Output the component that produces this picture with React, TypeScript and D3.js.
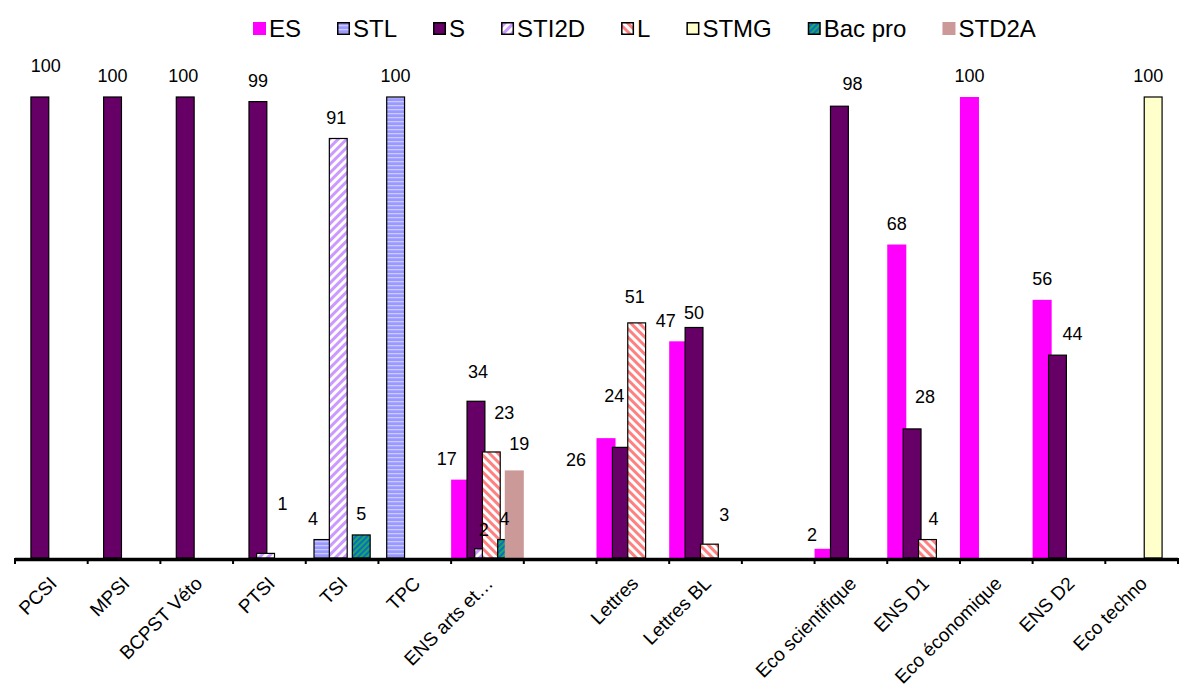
import React, { useEffect, useRef } from "react";
import * as d3 from "d3";

const categories = [
  "PCSI", "MPSI", "BCPST Véto", "PTSI", "TSI", "TPC", "ENS arts et…", "",
  "Lettres", "Lettres BL", "", "Eco scientifique", "ENS D1", "Eco économique", "ENS D2", "Eco techno",
];
const seriesNames = ["ES", "STL", "S", "STI2D", "L", "STMG", "Bac pro", "STD2A"];
const N = null;
const esValues = [N, N, N, N, N, N, 17, N, 26, 47, N, 2, 68, 100, 56, N];
const stlValues = [N, N, N, N, 4, 100, N, N, N, N, N, N, N, N, N, N];
const sValues = [100, 100, 100, 99, N, N, 34, N, 24, 50, N, 98, 28, N, 44, N];
const sti2dValues = [N, N, N, 1, 91, N, 2, N, N, N, N, N, N, N, N, N];
const lValues = [N, N, N, N, N, N, 23, N, 51, 3, N, N, 4, N, N, N];
const stmgValues = [N, N, N, N, N, N, N, N, N, N, N, N, N, N, N, 100];
const bacProValues = [N, N, N, N, 5, N, 4, N, N, N, N, N, N, N, N, N];
const std2aValues = [N, N, N, N, N, N, 19, N, N, N, N, N, N, N, N, N];
const seriesValues = [esValues, stlValues, sValues, sti2dValues, lValues, stmgValues, bacProValues, std2aValues];

// label nudges (category index, series index, dx, dy) relative to default "above bar"
const labelNudges: [number, number, number, number][] = [
  [0, 2, 6, -10], [2, 2, -2, 0],
  [3, 3, 17, -29],
  [4, 1, -10, 0], [4, 3, -2, 0],
  [6, 0, -14, 0], [6, 2, 2, -9], [6, 3, 0, 2], [6, 4, 13, -18], [6, 6, -2, 0], [6, 7, 5, -6],
  [8, 0, -30, 43], [8, 2, -7, -31], [8, 4, -2, -5],
  [9, 0, -13, 0], [9, 2, 0, 6], [9, 4, 15, -8],
  [11, 0, -12, 7], [11, 2, 13, -2],
  [12, 2, 13, -11], [12, 4, 6, 0],
  [14, 2, 15, 0],
  [15, 5, -5, 0],
];

const FONT = "'Liberation Sans', Arial, sans-serif";

export default function App() {
  const ref = useRef<SVGSVGElement | null>(null);

  useEffect(() => {
    const svg = d3.select(ref.current);
    svg.selectAll("*").remove();

    const plotLeft = 15, plotRight = 1178, axisY = 558, topY = 97;

    const defs = svg.append("defs");
    const pStl = defs.append("pattern").attr("id", "pStl").attr("patternUnits", "userSpaceOnUse")
      .attr("width", 6).attr("height", 4);
    pStl.append("rect").attr("width", 6).attr("height", 4).attr("fill", "#9999FF");
    pStl.append("rect").attr("y", 1).attr("width", 6).attr("height", 1.3).attr("fill", "#CACAFF");
    const pSti = defs.append("pattern").attr("id", "pSti").attr("patternUnits", "userSpaceOnUse")
      .attr("width", 6).attr("height", 6).attr("patternTransform", "rotate(45)");
    pSti.append("rect").attr("width", 6).attr("height", 6).attr("fill", "#FFFFFF");
    pSti.append("rect").attr("width", 3).attr("height", 6).attr("fill", "#CC99FF");
    const pL = defs.append("pattern").attr("id", "pL").attr("patternUnits", "userSpaceOnUse")
      .attr("width", 6).attr("height", 6).attr("patternTransform", "rotate(-45)");
    pL.append("rect").attr("width", 6).attr("height", 6).attr("fill", "#FFFFFF");
    pL.append("rect").attr("width", 3).attr("height", 6).attr("fill", "#FF8080");
    const pBac = defs.append("pattern").attr("id", "pBac").attr("patternUnits", "userSpaceOnUse")
      .attr("width", 4).attr("height", 4).attr("patternTransform", "rotate(45)");
    pBac.append("rect").attr("width", 4).attr("height", 4).attr("fill", "#0B6BC8");
    pBac.append("rect").attr("width", 2).attr("height", 4).attr("fill", "#1DAA5C");

    const fills = ["#FF00FF", "url(#pStl)", "#660066", "url(#pSti)", "url(#pL)", "#FFFFCC", "url(#pBac)", "#CC9999"];
    const bordered = [false, true, true, true, true, true, true, false];

    const x = d3.scaleBand<number>().domain(categories.map((_, i) => i)).range([plotLeft, plotRight]).padding(0);
    const y = d3.scaleLinear().domain([0, 100]).range([axisY, topY]);
    const band = x.bandwidth();
    const bw = band * 0.262;
    const step = (band - bw) / 7;

    seriesValues.forEach((vals, si) => {
      const g = svg.append("g");
      vals.forEach((v, ci) => {
        if (v == null) return;
        const x0 = (x(ci) as number) + si * step;
        const y0 = y(v);
        g.append("rect")
          .attr("x", x0 + (bordered[si] ? 0.6 : 0))
          .attr("y", y0)
          .attr("width", bw - (bordered[si] ? 1.2 : 0))
          .attr("height", axisY - y0)
          .attr("fill", fills[si])
          .attr("stroke", bordered[si] ? "#000" : "none")
          .attr("stroke-width", 1.2);
      });
    });

    const ax = svg.append("g");
    ax.append("line").attr("x1", plotLeft).attr("x2", plotRight).attr("y1", axisY + 1.5).attr("y2", axisY + 1.5)
      .attr("stroke", "#000").attr("stroke-width", 3.5);
    const tickPos = categories.map((_, i) => x(i) as number).concat([plotRight]);
    tickPos.forEach((tx) => {
      ax.append("line").attr("x1", tx).attr("x2", tx).attr("y1", axisY).attr("y2", axisY + 6)
        .attr("stroke", "#000").attr("stroke-width", 2);
    });

    categories.forEach((c, i) => {
      if (!c) return;
      const cx = (x(i) as number) + band / 2;
      svg.append("text")
        .attr("transform", `translate(${cx - 3},${axisY + 17}) rotate(-45)`)
        .attr("text-anchor", "end")
        .attr("dy", "0.72em")
        .attr("font-family", FONT)
        .attr("font-size", 19)
        .attr("fill", "#000")
        .text(c);
    });

    const nudge = new Map<string, [number, number]>();
    labelNudges.forEach(([c, s, dx, dy]) => nudge.set(`${c}|${s}`, [dx, dy]));
    seriesValues.forEach((vals, si) => {
      vals.forEach((v, ci) => {
        if (v == null) return;
        const cx = (x(ci) as number) + si * step + bw / 2;
        const [dx, dy] = nudge.get(`${ci}|${si}`) || [0, 0];
        svg.append("text")
          .attr("x", cx + dx)
          .attr("y", y(v) - 21 + dy)
          .attr("dy", "0.35em")
          .attr("text-anchor", "middle")
          .attr("font-family", FONT)
          .attr("font-size", 18)
          .attr("fill", "#000")
          .text(String(v));
      });
    });

    const lg = svg.append("g");
    let lx = 253;
    const legendFont = 24;
    seriesNames.forEach((name, si) => {
      lg.append("rect")
        .attr("x", lx + (bordered[si] ? 0.75 : 0))
        .attr("y", 22 + (bordered[si] ? 0.75 : 0))
        .attr("width", bordered[si] ? 11.5 : 13)
        .attr("height", bordered[si] ? 11.5 : 13)
        .attr("fill", fills[si])
        .attr("stroke", bordered[si] ? "#000" : "none")
        .attr("stroke-width", 1.5);
      const t = lg.append("text")
        .attr("x", lx + 16)
        .attr("y", 37)
        .attr("font-family", FONT)
        .attr("font-size", legendFont)
        .attr("fill", "#000")
        .text(name);
      const tw = (t.node() as SVGTextElement).getComputedTextLength();
      lx += 16 + tw + 36;
    });
  }, []);

  return (
    <svg
      ref={ref}
      width={1180}
      height={695}
      style={{ position: "absolute", left: 0, top: 0, background: "#fff" }}
    />
  );
}
